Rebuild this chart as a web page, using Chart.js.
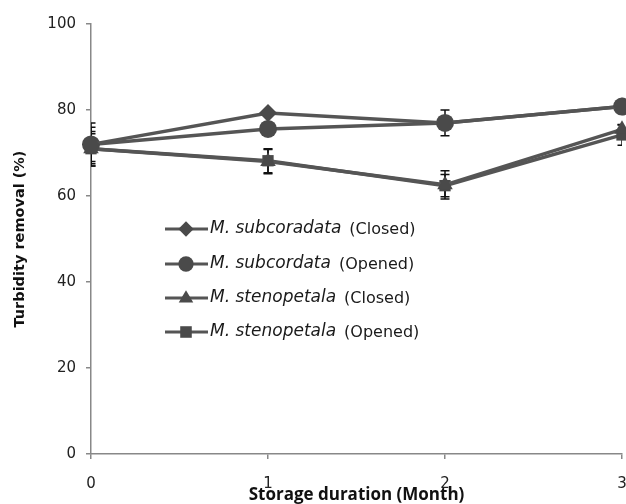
<!DOCTYPE html>
<html>
<head>
<meta charset="utf-8">
<script src="https://cdn.jsdelivr.net/npm/chart.js@4/dist/chart.umd.min.js"></script>
<style>
html,body{margin:0;padding:0;background:#fff;}
#wrap{width:626px;height:504px;position:relative;}
</style>
</head>
<body>
<div id="wrap"><canvas id="c" width="626" height="504"></canvas></div>
<script>
// ---- data ----
const months = [0, 1, 2, 3];
const monthLabels = ['0', '1', '2', '3'];
const yTicks = [0, 20, 40, 60, 80, 100];
const species = ['M. subcoradata', 'M. subcordata', 'M. stenopetala', 'M. stenopetala'];
const conditions = ['(Closed)', '(Opened)', '(Closed)', '(Opened)'];
const subClosed = [72, 79.3, 77, 80.8];
const subOpened = [72, 75.6, 77, 80.8];
const stenClosed = [71, 68, 62.6, 75.5];
const stenOpened = [71, 68.2, 62.4, 74.2];
const subClosedErr = [4, 0.5, 0.5, 0.5];
const subOpenedErr = [5, 1.5, 3, 0.5];
const stenClosedErr = [3.5, 2.8, 3.3, 1];
const stenOpenedErr = [4, 2.8, 2.6, 2.4];

const values = [subClosed, subOpened, stenClosed, stenOpened];
const errors = [subClosedErr, subOpenedErr, stenClosedErr, stenOpenedErr];
const styles = ['rectRot', 'circle', 'triangle', 'rect'];
const radii = [9, 9, 9, 8];

const lineColor = '#555555';
const markColor = '#4a4a4a';

const datasets = values.map((arr, k) => ({
  label: species[k] + ' ' + conditions[k],
  data: arr.map((v, i) => ({x: months[i], y: v})),
  errs: errors[k],
  borderColor: lineColor,
  backgroundColor: markColor,
  pointBackgroundColor: markColor,
  pointBorderColor: markColor,
  pointBorderWidth: 0,
  pointStyle: styles[k],
  pointRadius: radii[k],
  borderWidth: 3.5,
  tension: 0,
  clip: false
}));

function drawMarker(ctx, style, r, x, y) {
  ctx.save();
  ctx.fillStyle = markColor;
  ctx.beginPath();
  if (style === 'circle') {
    ctx.arc(x, y, r, 0, Math.PI * 2);
  } else if (style === 'rectRot') {
    ctx.moveTo(x, y - r); ctx.lineTo(x + r, y); ctx.lineTo(x, y + r); ctx.lineTo(x - r, y);
  } else if (style === 'triangle') {
    ctx.moveTo(x, y - r); ctx.lineTo(x + r * 0.95, y + r * 0.6); ctx.lineTo(x - r * 0.95, y + r * 0.6);
  } else {
    const s = r * 0.85;
    ctx.rect(x - s, y - s, 2 * s, 2 * s);
  }
  ctx.closePath();
  ctx.fill();
  ctx.restore();
}

const errorBars = {
  id: 'errorBars',
  beforeDatasetsDraw(chart) {
    const ctx = chart.ctx;
    const a = chart.chartArea;
    const xs = chart.scales.x, ys = chart.scales.y;
    ctx.save();
    ctx.beginPath();
    ctx.rect(a.left, a.top - 5, a.right - a.left, a.bottom - a.top + 10);
    ctx.clip();
    ctx.strokeStyle = '#111';
    ctx.lineWidth = 1.5;
    chart.data.datasets.forEach(ds => {
      ds.data.forEach((p, i) => {
        const e = ds.errs[i];
        const x = xs.getPixelForValue(p.x);
        const y1 = ys.getPixelForValue(p.y + e);
        const y2 = ys.getPixelForValue(p.y - e);
        ctx.beginPath();
        ctx.moveTo(x, y1); ctx.lineTo(x, y2);
        ctx.moveTo(x - 4.5, y1); ctx.lineTo(x + 4.5, y1);
        ctx.moveTo(x - 4.5, y2); ctx.lineTo(x + 4.5, y2);
        ctx.stroke();
      });
    });
    ctx.restore();
  }
};

const customLegend = {
  id: 'customLegend',
  afterDraw(chart) {
    const ctx = chart.ctx;
    const rows = [229, 264, 298, 332];
    ctx.save();
    rows.forEach((y, k) => {
      ctx.strokeStyle = lineColor;
      ctx.lineWidth = 3;
      ctx.beginPath();
      ctx.moveTo(165, y); ctx.lineTo(208, y);
      ctx.stroke();
      drawMarker(ctx, styles[k], radii[k] * 0.85, 186, y);
      ctx.fillStyle = '#1a1a1a';
      ctx.textBaseline = 'middle';
      ctx.font = 'oblique 17px "DejaVu Sans"';
      ctx.fillText(species[k], 210, y);
      const w = ctx.measureText(species[k]).width;
      ctx.font = '16px "DejaVu Sans"';
      ctx.fillText(conditions[k], 210 + w + 8, y + 1);
    });
    ctx.restore();
  }
};

new Chart(document.getElementById('c'), {
  type: 'line',
  data: { datasets },
  options: {
    responsive: false,
    animation: false,
    layout: { autoPadding: false, padding: { top: 24, right: 4, left: 0, bottom: 0 } },
    plugins: { legend: { display: false }, tooltip: { enabled: false } },
    scales: {
      x: {
        type: 'linear', min: 0, max: 3,
        afterFit(s) { s.height = 50; s.paddingRight = 0; s.paddingLeft = 0; },
        afterBuildTicks(s) { s.ticks = months.map(v => ({value: v})); },
        ticks: {
          callback: (v) => monthLabels[months.indexOf(v)],
          font: { family: 'DejaVu Sans', size: 15 }, color: '#222', padding: 16, maxRotation: 0
        },
        grid: { drawOnChartArea: false, color: '#888', tickLength: 5, lineWidth: 1.5 },
        border: { color: '#888', width: 1.5 },
        title: {
          display: true, text: 'Storage duration (Month)',
          font: { family: 'Open Sans', size: 17, weight: 'bold' }, color: '#111',
          padding: { top: 0, bottom: -1 }
        }
      },
      y: {
        min: 0, max: 100,
        afterFit(s) { s.width = 91; s.paddingTop = 0; s.paddingBottom = 0; },
        afterBuildTicks(s) { s.ticks = yTicks.map(v => ({value: v})); },
        ticks: { font: { family: 'DejaVu Sans', size: 15 }, color: '#222', padding: 10 },
        grid: { drawOnChartArea: false, color: '#888', tickLength: 5, lineWidth: 1.5 },
        border: { color: '#888', width: 1.5 },
        title: {
          display: true, text: 'Turbidity removal (%)',
          font: { family: 'DejaVu Sans', size: 14.5, weight: 'bold' }, color: '#111',
          padding: { top: 12, bottom: 0 }
        }
      }
    }
  },
  plugins: [errorBars, customLegend]
});
</script>
</body>
</html>
